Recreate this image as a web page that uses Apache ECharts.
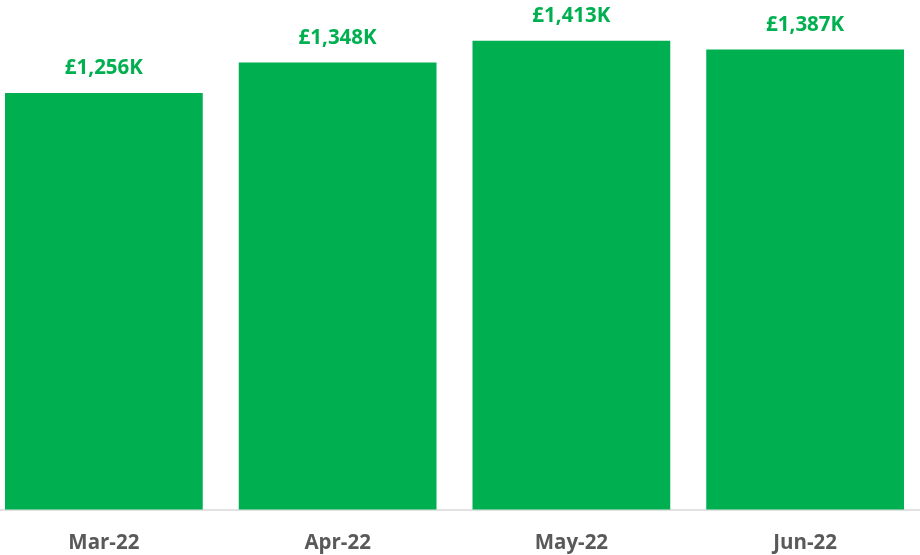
<!DOCTYPE html>
<html>
<head>
<meta charset="utf-8">
<script src="https://cdn.jsdelivr.net/npm/echarts@6/dist/echarts.min.js"></script>
<style>
  html, body { margin: 0; padding: 0; background: #fff; overflow: hidden; }
  #chart { width: 935px; height: 555px; position: relative; left: -13.5px; }
</style>
</head>
<body>
<div id="chart"></div>
<script>
const months = ['Mar-22', 'Apr-22', 'May-22', 'Jun-22'];
const revenue = [1256, 1348, 1413, 1387]; // £K

const chart = echarts.init(document.getElementById('chart'));

const option = {
  animation: false,
  grid: {
    left: 0,
    right: 0,
    top: 12,
    bottom: 45.5
  },
  xAxis: {
    type: 'category',
    data: months,
    axisTick: { show: false },
    axisLine: { lineStyle: { color: '#d9d9d9', width: 1.5 } },
    axisLabel: {
      margin: 23,
      color: '#595959',
      fontFamily: 'Open Sans',
      fontWeight: 'bold',
      fontSize: 20.5
    }
  },
  yAxis: {
    type: 'value',
    min: 0,
    max: 1500,
    show: false,
    splitLine: { show: false }
  },
  series: [
    {
      type: 'bar',
      data: revenue,
      barCategoryGap: '15.4%',
      itemStyle: { color: '#00b050' },
      label: {
        show: true,
        position: 'top',
        distance: 14,
        color: '#00b050',
        fontFamily: 'Open Sans',
        fontWeight: 'bold',
        fontSize: 20.5,
        formatter: function (p) {
          return '£' + p.value.toLocaleString('en-GB') + 'K';
        }
      }
    }
  ]
};

chart.setOption(option);
</script>
</body>
</html>
